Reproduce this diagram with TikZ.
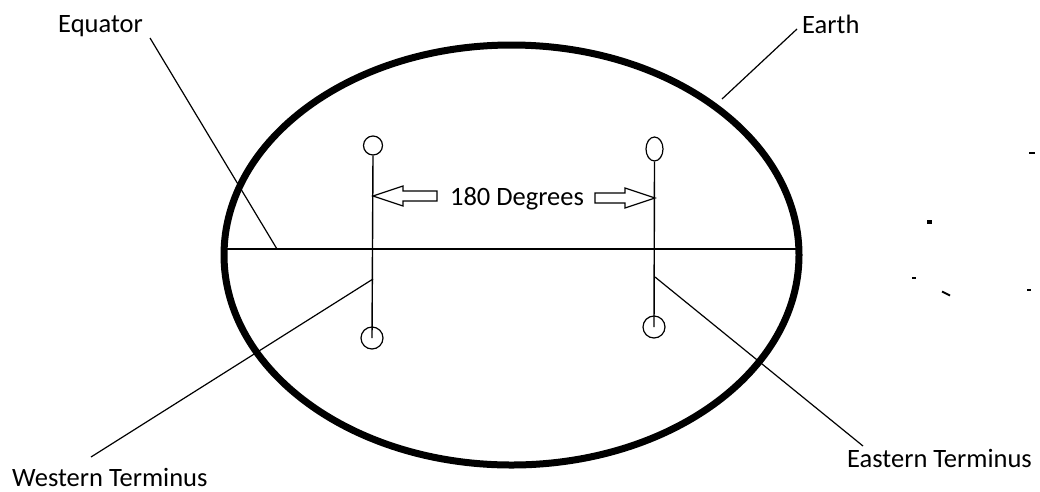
\documentclass[tikz,border=0pt]{standalone}
\usepackage{fontspec}
\setmainfont{Carlito}
\usetikzlibrary{shapes.geometric}
\begin{document}
\begin{tikzpicture}[x=1pt,y=-1pt,
  lbl/.style={inner sep=0pt,anchor=base west,font=\fontsize{26.5}{30}\selectfont},
  thin line/.style={line width=1.2pt},
  earth line/.style={line width=7pt},
  pole/.style={line width=1.4pt},
  blockarrow/.style={line width=1.2pt,line join=miter,fill=white},
  speck/.style={fill=black,draw=none}]
\useasboundingbox (0,0) rectangle (1040,491);
% Earth
\draw[earth line] (511.5,255) ellipse [x radius=287.5, y radius=210];
% Equator
\coordinate (eqL) at (224,249);
\coordinate (eqR) at (799,249);
\draw[thin line] (eqL) -- (eqR);
% terminus markers
\node[draw,circle,line width=1.2pt,minimum size=19pt,inner sep=0pt] (wt) at (373,145.5) {};
\node[draw,circle,line width=1.2pt,minimum size=22pt,inner sep=0pt] (wb) at (372,338) {};
\node[draw,ellipse,line width=1.2pt,minimum width=17pt,minimum height=24pt,inner sep=0pt] (et) at (654.5,149) {};
\node[draw,circle,line width=1.2pt,minimum size=22pt,inner sep=0pt] (eb) at (654,327) {};
\draw[pole] (wt.south) -- (wb.center);
\draw[pole] (et.south) -- (eb.center);
% 180 degrees arrows
\draw[blockarrow] (373,196) -- (403,186) -- (403,191) -- (437,191) -- (437,201) -- (403,201) -- (403,206) -- cycle;
\draw[blockarrow] (655,198) -- (625,188) -- (625,193) -- (595,193) -- (595,203) -- (625,203) -- (625,208) -- cycle;
\node[lbl,anchor=base] (deg) at (517,205) {180 Degrees};
% labels
\node[lbl] (equator) at (58,32) {Equator};
\node[lbl] (earth) at (802,33) {Earth};
\node[lbl] (western) at (12,486) {Western Terminus};
\node[lbl] (eastern) at (847,467) {Eastern Terminus};
% leader lines
\coordinate (eqA) at (150,38);
\coordinate (eqB) at (277,249);
\coordinate (eaA) at (797,29);
\coordinate (eaB) at (722,99);
\coordinate (wtA) at (91,457);
\coordinate (wtB) at (373,279);
\coordinate (etA) at (655,277);
\coordinate (etB) at (863,446);
\draw[thin line] (eqA) -- (eqB);
\draw[thin line] (eaA) -- (eaB);
\draw[thin line] (wtA) -- (wtB);
\draw[thin line] (etA) -- (etB);
% specks
\fill[speck] (1029,152) rectangle (1035,154);
\fill[speck] (927,220) rectangle (932,224);
\fill[speck] (912,277) rectangle (916,279);
\draw[line width=1.8pt] (942,291.5) -- (950,295.5);
\fill[speck] (1027,289) rectangle (1031,291);
\end{tikzpicture}
\end{document}
